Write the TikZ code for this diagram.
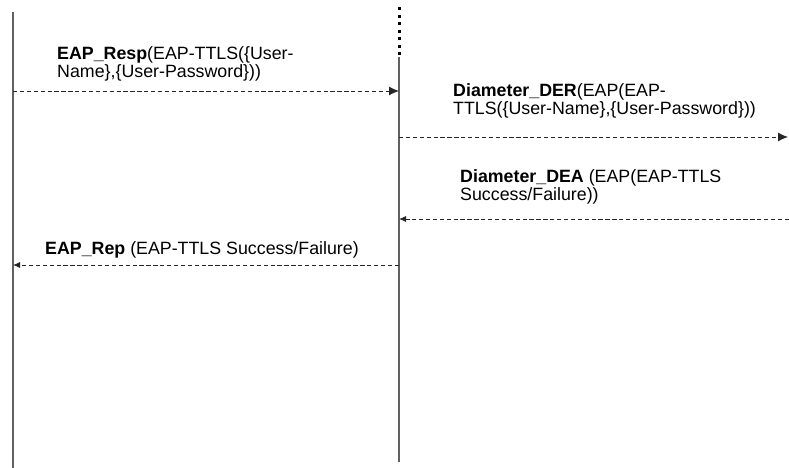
\documentclass[tikz,border=0pt]{standalone}
\usepackage{fontspec}
\setmainfont{Liberation Sans}
\usetikzlibrary{arrows.meta}
\begin{document}
\begin{tikzpicture}[x=1bp,y=-1bp,
  life/.style={draw=black!62,line width=1.7bp},
  lifedot/.style={draw=black,line width=3bp,dash pattern=on 3bp off 4.5bp},
  msg/.style={draw=black!85,line width=0.9bp,dash pattern=on 4.3bp off 2.6bp},
  bighead/.style={-{Latex[length=10bp,width=9bp]}},
  smallhead/.style={-{Latex[length=7bp,width=6bp]}},
  lbl/.style={anchor=base west,inner sep=0pt,font=\fontsize{17.8bp}{19bp}\selectfont}]
\useasboundingbox (0,0) rectangle (789,468);
% lifelines
\coordinate (Ltop) at (13,12);
\coordinate (Lbot) at (13,468);
\coordinate (Mdot) at (399,7.5);
\coordinate (Mtop) at (399,57);
\coordinate (Mbot) at (399,462);
\draw[life] (Ltop) -- (Lbot);
\draw[lifedot] (Mdot) -- (Mtop);
\draw[life] (Mtop) -- (Mbot);
% message end points
\coordinate (a1) at (13,91);   \coordinate (b1) at (399,91);
\coordinate (b2) at (399,137); \coordinate (c2) at (788,137);
\coordinate (c3) at (789,219); \coordinate (b3) at (399,219);
\coordinate (b4) at (399,265); \coordinate (a4) at (13,265);
\draw[msg,bighead] (a1) -- (b1);
\draw[msg,bighead] (b2) -- (c2);
\draw[msg,smallhead] (c3) -- (b3);
\draw[msg,smallhead] (b4) -- (a4);
% labels
\node[lbl] (t1a) at (57,60) {\textbf{EAP\_Resp}(EAP-TTLS(\{User-};
\node[lbl] (t1b) at (57,78) {Name\},\{User-Password\}))};
\node[lbl] (t2a) at (453,97) {\textbf{Diameter\_DER}(EAP(EAP-};
\node[lbl] (t2b) at (453,115) {TTLS(\{User-Name\},\{User-Password\}))};
\node[lbl] (t3a) at (460,183) {\textbf{Diameter\_DEA} (EAP(EAP-TTLS};
\node[lbl] (t3b) at (460,201) {Success/Failure))};
\node[lbl] (t4) at (45,255) {\textbf{EAP\_Rep} (EAP-TTLS Success/Failure)};
\end{tikzpicture}
\end{document}
